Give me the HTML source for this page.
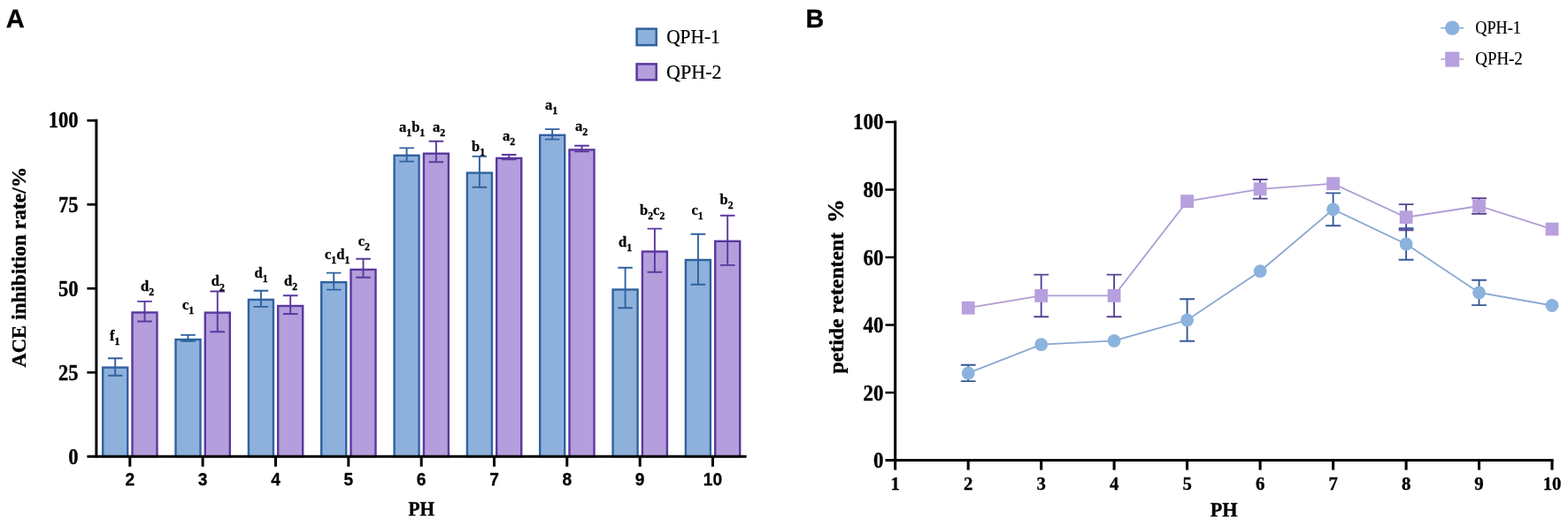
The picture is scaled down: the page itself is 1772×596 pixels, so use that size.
<!DOCTYPE html>
<html lang="en"><head><meta charset="utf-8"><title>Figure</title>
<style>
html,body{margin:0;padding:0;background:#fff;}
body{width:1772px;height:596px;overflow:hidden;}
svg{display:block;}
</style></head><body>
<svg width="1772" height="596" viewBox="0 0 1772 596">
<rect width="1772" height="596" fill="#fff"/>

<text transform="translate(6.87,31.00) scale(0.9844,1)" font-family='"Liberation Sans", sans-serif' font-weight="bold" font-size="29.57" fill="#000" stroke="#000" stroke-width="0.3">A</text>
<rect x="116.2" y="415.6" width="28.0" height="100.6" fill="#8eb1dc" stroke="#30629f" stroke-width="2.4"/>
<path d="M130.2 405.3 V424.7 M121.9 405.3 h16.6 M121.9 424.7 h16.6" stroke="#30629f" stroke-width="1.9" fill="none"/>
<rect x="149.5" y="353.4" width="28.0" height="162.8" fill="#b49edb" stroke="#5b389f" stroke-width="2.4"/>
<path d="M163.5 340.9 V363.5 M155.2 340.9 h16.6 M155.2 363.5 h16.6" stroke="#5b389f" stroke-width="1.9" fill="none"/>
<rect x="198.5" y="384.0" width="28.0" height="132.2" fill="#8eb1dc" stroke="#30629f" stroke-width="2.4"/>
<path d="M212.5 378.9 V385.8 M204.2 378.9 h16.6 M204.2 385.8 h16.6" stroke="#30629f" stroke-width="1.9" fill="none"/>
<rect x="231.8" y="353.6" width="28.0" height="162.6" fill="#b49edb" stroke="#5b389f" stroke-width="2.4"/>
<path d="M245.8 329.5 V375.3 M237.5 329.5 h16.6 M237.5 375.3 h16.6" stroke="#5b389f" stroke-width="1.9" fill="none"/>
<rect x="280.9" y="338.9" width="28.0" height="177.3" fill="#8eb1dc" stroke="#30629f" stroke-width="2.4"/>
<path d="M294.9 328.8 V346.9 M286.6 328.8 h16.6 M286.6 346.9 h16.6" stroke="#30629f" stroke-width="1.9" fill="none"/>
<rect x="314.2" y="346.0" width="28.0" height="170.2" fill="#b49edb" stroke="#5b389f" stroke-width="2.4"/>
<path d="M328.2 334.2 V355.0 M319.9 334.2 h16.6 M319.9 355.0 h16.6" stroke="#5b389f" stroke-width="1.9" fill="none"/>
<rect x="363.2" y="319.2" width="28.0" height="197.0" fill="#8eb1dc" stroke="#30629f" stroke-width="2.4"/>
<path d="M377.2 308.6 V327.6 M368.9 308.6 h16.6 M368.9 327.6 h16.6" stroke="#30629f" stroke-width="1.9" fill="none"/>
<rect x="396.5" y="304.9" width="28.0" height="211.3" fill="#b49edb" stroke="#5b389f" stroke-width="2.4"/>
<path d="M410.5 292.8 V313.8 M402.2 292.8 h16.6 M402.2 313.8 h16.6" stroke="#5b389f" stroke-width="1.9" fill="none"/>
<rect x="445.6" y="175.8" width="28.0" height="340.4" fill="#8eb1dc" stroke="#30629f" stroke-width="2.4"/>
<path d="M459.6 167.4 V182.6 M451.3 167.4 h16.6 M451.3 182.6 h16.6" stroke="#30629f" stroke-width="1.9" fill="none"/>
<rect x="478.9" y="173.7" width="28.0" height="342.5" fill="#b49edb" stroke="#5b389f" stroke-width="2.4"/>
<path d="M492.9 159.8 V183.3 M484.6 159.8 h16.6 M484.6 183.3 h16.6" stroke="#5b389f" stroke-width="1.9" fill="none"/>
<rect x="527.9" y="195.5" width="28.0" height="320.7" fill="#8eb1dc" stroke="#30629f" stroke-width="2.4"/>
<path d="M541.9 176.9 V211.8 M533.6 176.9 h16.6 M533.6 211.8 h16.6" stroke="#30629f" stroke-width="1.9" fill="none"/>
<rect x="561.2" y="178.9" width="28.0" height="337.3" fill="#b49edb" stroke="#5b389f" stroke-width="2.4"/>
<path d="M575.2 175.0 V180.4 M566.9 175.0 h16.6 M566.9 180.4 h16.6" stroke="#5b389f" stroke-width="1.9" fill="none"/>
<rect x="610.2" y="152.8" width="28.0" height="363.4" fill="#8eb1dc" stroke="#30629f" stroke-width="2.4"/>
<path d="M624.2 146.1 V157.6 M615.9 146.1 h16.6 M615.9 157.6 h16.6" stroke="#30629f" stroke-width="1.9" fill="none"/>
<rect x="643.5" y="169.4" width="28.0" height="346.8" fill="#b49edb" stroke="#5b389f" stroke-width="2.4"/>
<path d="M657.5 164.8 V171.4 M649.2 164.8 h16.6 M649.2 171.4 h16.6" stroke="#5b389f" stroke-width="1.9" fill="none"/>
<rect x="692.6" y="327.5" width="28.0" height="188.7" fill="#8eb1dc" stroke="#30629f" stroke-width="2.4"/>
<path d="M706.6 302.7 V348.3 M698.3 302.7 h16.6 M698.3 348.3 h16.6" stroke="#30629f" stroke-width="1.9" fill="none"/>
<rect x="725.9" y="284.5" width="28.0" height="231.7" fill="#b49edb" stroke="#5b389f" stroke-width="2.4"/>
<path d="M739.9 258.6 V307.7 M731.6 258.6 h16.6 M731.6 307.7 h16.6" stroke="#5b389f" stroke-width="1.9" fill="none"/>
<rect x="774.9" y="294.0" width="28.0" height="222.2" fill="#8eb1dc" stroke="#30629f" stroke-width="2.4"/>
<path d="M788.9 264.7 V321.7 M780.6 264.7 h16.6 M780.6 321.7 h16.6" stroke="#30629f" stroke-width="1.9" fill="none"/>
<rect x="808.2" y="272.8" width="28.0" height="243.5" fill="#b49edb" stroke="#5b389f" stroke-width="2.4"/>
<path d="M822.2 243.8 V299.9 M813.9 243.8 h16.6 M813.9 299.9 h16.6" stroke="#5b389f" stroke-width="1.9" fill="none"/>
<g stroke="#000" stroke-width="3.0" fill="none" stroke-linecap="butt">
<path d="M108.9 134.8 V517.7"/>
<path d="M98.4 516.2 H843.6"/>
<path d="M98.4 421.23 H108.9" stroke-width="2.7"/>
<path d="M98.4 326.25 H108.9" stroke-width="2.7"/>
<path d="M98.4 231.28 H108.9" stroke-width="2.7"/>
<path d="M98.4 136.30 H108.9" stroke-width="2.7"/>
<path d="M146.8 516.2 V527.7"/>
<path d="M229.1 516.2 V527.7"/>
<path d="M311.5 516.2 V527.7"/>
<path d="M393.8 516.2 V527.7"/>
<path d="M476.2 516.2 V527.7"/>
<path d="M558.5 516.2 V527.7"/>
<path d="M640.8 516.2 V527.7"/>
<path d="M723.2 516.2 V527.7"/>
<path d="M805.5 516.2 V527.7"/>
</g>
<text transform="translate(77.35,524.70) scale(0.9000,1)" text-anchor="start" font-family='"Liberation Serif", serif' font-weight="bold" font-size="25.00" fill="#000" stroke="#000" stroke-width="0.35">0</text>
<text transform="translate(65.99,429.73) scale(0.9000,1)" text-anchor="start" font-family='"Liberation Serif", serif' font-weight="bold" font-size="25.00" fill="#000" stroke="#000" stroke-width="0.35">25</text>
<text transform="translate(66.10,334.75) scale(0.9000,1)" text-anchor="start" font-family='"Liberation Serif", serif' font-weight="bold" font-size="25.00" fill="#000" stroke="#000" stroke-width="0.35">50</text>
<text transform="translate(65.99,239.78) scale(0.9000,1)" text-anchor="start" font-family='"Liberation Serif", serif' font-weight="bold" font-size="25.00" fill="#000" stroke="#000" stroke-width="0.35">75</text>
<text transform="translate(54.85,144.10) scale(0.9000,1)" text-anchor="start" font-family='"Liberation Serif", serif' font-weight="bold" font-size="25.00" fill="#000" stroke="#000" stroke-width="0.35">100</text>
<text transform="translate(146.80,549.40) scale(0.9400,1)" text-anchor="middle" font-family='"Liberation Sans", sans-serif' font-weight="bold" font-size="20.40" fill="#000" stroke="#000" stroke-width="0.3">2</text>
<text transform="translate(229.14,549.40) scale(0.9400,1)" text-anchor="middle" font-family='"Liberation Sans", sans-serif' font-weight="bold" font-size="20.40" fill="#000" stroke="#000" stroke-width="0.3">3</text>
<text transform="translate(311.48,549.40) scale(0.9400,1)" text-anchor="middle" font-family='"Liberation Sans", sans-serif' font-weight="bold" font-size="20.40" fill="#000" stroke="#000" stroke-width="0.3">4</text>
<text transform="translate(393.82,549.40) scale(0.9400,1)" text-anchor="middle" font-family='"Liberation Sans", sans-serif' font-weight="bold" font-size="20.40" fill="#000" stroke="#000" stroke-width="0.3">5</text>
<text transform="translate(476.16,549.40) scale(0.9400,1)" text-anchor="middle" font-family='"Liberation Sans", sans-serif' font-weight="bold" font-size="20.40" fill="#000" stroke="#000" stroke-width="0.3">6</text>
<text transform="translate(558.50,549.40) scale(0.9400,1)" text-anchor="middle" font-family='"Liberation Sans", sans-serif' font-weight="bold" font-size="20.40" fill="#000" stroke="#000" stroke-width="0.3">7</text>
<text transform="translate(640.84,549.40) scale(0.9400,1)" text-anchor="middle" font-family='"Liberation Sans", sans-serif' font-weight="bold" font-size="20.40" fill="#000" stroke="#000" stroke-width="0.3">8</text>
<text transform="translate(723.18,549.40) scale(0.9400,1)" text-anchor="middle" font-family='"Liberation Sans", sans-serif' font-weight="bold" font-size="20.40" fill="#000" stroke="#000" stroke-width="0.3">9</text>
<text transform="translate(805.52,549.40) scale(0.9400,1)" text-anchor="middle" font-family='"Liberation Sans", sans-serif' font-weight="bold" font-size="20.40" fill="#000" stroke="#000" stroke-width="0.3">10</text>
<text transform="translate(461.58,582.70) scale(0.9191,1)" font-family='"Liberation Serif", serif' font-weight="bold" font-size="23.21" fill="#000" stroke="#000" stroke-width="0.35">PH</text>
<text transform="translate(28.85,415.20) rotate(-90) scale(1.0100,1)" font-family='"Liberation Serif", serif' font-weight="bold" fill="#000" xml:space="preserve" stroke="#000" stroke-width="0.35"><tspan dx="-0.22" font-size="22.30">ACE</tspan><tspan dx="0.32" font-size="22.90"> inhibition</tspan><tspan dx="0.26" font-size="23.30"> rate/%</tspan></text>
<text transform="translate(124,385) scale(1.0,1)" font-family='"Liberation Serif", serif' font-weight="bold" font-size="16.5" fill="#000" stroke="#000" stroke-width="0.3"><tspan>f</tspan><tspan dy="5.4" font-size="11.8">1</tspan></text>
<text transform="translate(159,328.7) scale(1.0,1)" font-family='"Liberation Serif", serif' font-weight="bold" font-size="16.5" fill="#000" stroke="#000" stroke-width="0.3"><tspan>d</tspan><tspan dy="5.4" font-size="11.8">2</tspan></text>
<text transform="translate(206,350) scale(1.0,1)" font-family='"Liberation Serif", serif' font-weight="bold" font-size="16.5" fill="#000" stroke="#000" stroke-width="0.3"><tspan>c</tspan><tspan dy="5.4" font-size="11.8">1</tspan></text>
<text transform="translate(238.7,323.3) scale(1.0,1)" font-family='"Liberation Serif", serif' font-weight="bold" font-size="16.5" fill="#000" stroke="#000" stroke-width="0.3"><tspan>d</tspan><tspan dy="5.4" font-size="11.8">2</tspan></text>
<text transform="translate(287.6,314) scale(1.0,1)" font-family='"Liberation Serif", serif' font-weight="bold" font-size="16.5" fill="#000" stroke="#000" stroke-width="0.3"><tspan>d</tspan><tspan dy="5.4" font-size="11.8">1</tspan></text>
<text transform="translate(321,323) scale(1.0,1)" font-family='"Liberation Serif", serif' font-weight="bold" font-size="16.5" fill="#000" stroke="#000" stroke-width="0.3"><tspan>d</tspan><tspan dy="5.4" font-size="11.8">2</tspan></text>
<text transform="translate(367,293) scale(1.0,1)" font-family='"Liberation Serif", serif' font-weight="bold" font-size="16.5" fill="#000" stroke="#000" stroke-width="0.3"><tspan>c</tspan><tspan dy="5.4" font-size="11.8">1</tspan><tspan dy="-5.4">d</tspan><tspan dy="5.4" font-size="11.8">1</tspan></text>
<text transform="translate(404.7,277.6) scale(1.0,1)" font-family='"Liberation Serif", serif' font-weight="bold" font-size="16.5" fill="#000" stroke="#000" stroke-width="0.3"><tspan>c</tspan><tspan dy="5.4" font-size="11.8">2</tspan></text>
<text transform="translate(451,148.5) scale(1.0,1)" font-family='"Liberation Serif", serif' font-weight="bold" font-size="16.5" fill="#000" stroke="#000" stroke-width="0.3"><tspan>a</tspan><tspan dy="5.4" font-size="11.8">1</tspan><tspan dy="-5.4">b</tspan><tspan dy="5.4" font-size="11.8">1</tspan></text>
<text transform="translate(489,148.5) scale(1.0,1)" font-family='"Liberation Serif", serif' font-weight="bold" font-size="16.5" fill="#000" stroke="#000" stroke-width="0.3"><tspan>a</tspan><tspan dy="5.4" font-size="11.8">2</tspan></text>
<text transform="translate(533,170.5) scale(1.0,1)" font-family='"Liberation Serif", serif' font-weight="bold" font-size="16.5" fill="#000" stroke="#000" stroke-width="0.3"><tspan>b</tspan><tspan dy="5.4" font-size="11.8">1</tspan></text>
<text transform="translate(568,159) scale(1.0,1)" font-family='"Liberation Serif", serif' font-weight="bold" font-size="16.5" fill="#000" stroke="#000" stroke-width="0.3"><tspan>a</tspan><tspan dy="5.4" font-size="11.8">2</tspan></text>
<text transform="translate(616,124) scale(1.0,1)" font-family='"Liberation Serif", serif' font-weight="bold" font-size="16.5" fill="#000" stroke="#000" stroke-width="0.3"><tspan>a</tspan><tspan dy="5.4" font-size="11.8">1</tspan></text>
<text transform="translate(650,148) scale(1.0,1)" font-family='"Liberation Serif", serif' font-weight="bold" font-size="16.5" fill="#000" stroke="#000" stroke-width="0.3"><tspan>a</tspan><tspan dy="5.4" font-size="11.8">2</tspan></text>
<text transform="translate(699,279) scale(1.0,1)" font-family='"Liberation Serif", serif' font-weight="bold" font-size="16.5" fill="#000" stroke="#000" stroke-width="0.3"><tspan>d</tspan><tspan dy="5.4" font-size="11.8">1</tspan></text>
<text transform="translate(723,242.6) scale(1.0,1)" font-family='"Liberation Serif", serif' font-weight="bold" font-size="16.5" fill="#000" stroke="#000" stroke-width="0.3"><tspan>b</tspan><tspan dy="5.4" font-size="11.8">2</tspan><tspan dy="-5.4">c</tspan><tspan dy="5.4" font-size="11.8">2</tspan></text>
<text transform="translate(781.5,243) scale(1.0,1)" font-family='"Liberation Serif", serif' font-weight="bold" font-size="16.5" fill="#000" stroke="#000" stroke-width="0.3"><tspan>c</tspan><tspan dy="5.4" font-size="11.8">1</tspan></text>
<text transform="translate(813.6,231) scale(1.0,1)" font-family='"Liberation Serif", serif' font-weight="bold" font-size="16.5" fill="#000" stroke="#000" stroke-width="0.3"><tspan>b</tspan><tspan dy="5.4" font-size="11.8">2</tspan></text>
<rect x="719.6" y="32.6" width="22.1" height="18.5" fill="#8eb1dc" stroke="#30629f" stroke-width="2.5"/>
<rect x="719.6" y="72.4" width="22.1" height="18.0" fill="#b49edb" stroke="#5b389f" stroke-width="2.5"/>
<text transform="translate(753.14,49.40) scale(0.9049,1)" font-family='"Liberation Serif", serif' font-weight="normal" font-size="23.64" fill="#000" stroke="#000" stroke-width="0.2">QPH-1</text>
<text transform="translate(753.12,89.00) scale(0.9342,1)" font-family='"Liberation Serif", serif' font-weight="normal" font-size="23.64" fill="#000" stroke="#000" stroke-width="0.2">QPH-2</text>
<text transform="translate(910.54,31.10) scale(0.9609,1)" font-family='"Liberation Sans", sans-serif' font-weight="bold" font-size="29.86" fill="#000" stroke="#000" stroke-width="0.3">B</text>
<g stroke="#000" stroke-width="3.1" fill="none">
<path d="M1011.7 136.5 V531.5"/>
<path d="M1000.5 520.5 H1755.6"/>
<path d="M1000.5 444.00 H1011.7" stroke-width="2.5"/>
<path d="M1000.5 367.50 H1011.7" stroke-width="2.5"/>
<path d="M1000.5 291.00 H1011.7" stroke-width="2.5"/>
<path d="M1000.5 214.50 H1011.7" stroke-width="2.5"/>
<path d="M1000.5 138.00 H1011.7" stroke-width="2.5"/>
<path d="M1094.2 520.5 V531.5"/>
<path d="M1176.7 520.5 V531.5"/>
<path d="M1259.1 520.5 V531.5"/>
<path d="M1341.6 520.5 V531.5"/>
<path d="M1424.1 520.5 V531.5"/>
<path d="M1506.6 520.5 V531.5"/>
<path d="M1589.1 520.5 V531.5"/>
<path d="M1671.5 520.5 V531.5"/>
<path d="M1754.0 520.5 V531.5"/>
</g>
<text transform="translate(986.93,529.20) scale(0.9050,1)" text-anchor="start" font-family='"Liberation Serif", serif' font-weight="bold" font-size="25.40" fill="#000" stroke="#000" stroke-width="0.35">0</text>
<text transform="translate(975.43,452.70) scale(0.9050,1)" text-anchor="start" font-family='"Liberation Serif", serif' font-weight="bold" font-size="25.40" fill="#000" stroke="#000" stroke-width="0.35">20</text>
<text transform="translate(975.43,376.20) scale(0.9050,1)" text-anchor="start" font-family='"Liberation Serif", serif' font-weight="bold" font-size="25.40" fill="#000" stroke="#000" stroke-width="0.35">40</text>
<text transform="translate(975.43,299.70) scale(0.9050,1)" text-anchor="start" font-family='"Liberation Serif", serif' font-weight="bold" font-size="25.40" fill="#000" stroke="#000" stroke-width="0.35">60</text>
<text transform="translate(975.43,223.20) scale(0.9050,1)" text-anchor="start" font-family='"Liberation Serif", serif' font-weight="bold" font-size="25.40" fill="#000" stroke="#000" stroke-width="0.35">80</text>
<text transform="translate(963.94,146.30) scale(0.9050,1)" text-anchor="start" font-family='"Liberation Serif", serif' font-weight="bold" font-size="25.40" fill="#000" stroke="#000" stroke-width="0.35">100</text>
<text transform="translate(1011.70,554.20) scale(0.9800,1)" text-anchor="middle" font-family='"Liberation Serif", serif' font-weight="bold" font-size="21.20" fill="#000" stroke="#000" stroke-width="0.35">1</text>
<text transform="translate(1094.18,554.20) scale(0.9800,1)" text-anchor="middle" font-family='"Liberation Serif", serif' font-weight="bold" font-size="21.20" fill="#000" stroke="#000" stroke-width="0.35">2</text>
<text transform="translate(1176.66,554.20) scale(0.9800,1)" text-anchor="middle" font-family='"Liberation Serif", serif' font-weight="bold" font-size="21.20" fill="#000" stroke="#000" stroke-width="0.35">3</text>
<text transform="translate(1259.14,554.20) scale(0.9800,1)" text-anchor="middle" font-family='"Liberation Serif", serif' font-weight="bold" font-size="21.20" fill="#000" stroke="#000" stroke-width="0.35">4</text>
<text transform="translate(1341.62,554.20) scale(0.9800,1)" text-anchor="middle" font-family='"Liberation Serif", serif' font-weight="bold" font-size="21.20" fill="#000" stroke="#000" stroke-width="0.35">5</text>
<text transform="translate(1424.10,554.20) scale(0.9800,1)" text-anchor="middle" font-family='"Liberation Serif", serif' font-weight="bold" font-size="21.20" fill="#000" stroke="#000" stroke-width="0.35">6</text>
<text transform="translate(1506.58,554.20) scale(0.9800,1)" text-anchor="middle" font-family='"Liberation Serif", serif' font-weight="bold" font-size="21.20" fill="#000" stroke="#000" stroke-width="0.35">7</text>
<text transform="translate(1589.06,554.20) scale(0.9800,1)" text-anchor="middle" font-family='"Liberation Serif", serif' font-weight="bold" font-size="21.20" fill="#000" stroke="#000" stroke-width="0.35">8</text>
<text transform="translate(1671.54,554.20) scale(0.9800,1)" text-anchor="middle" font-family='"Liberation Serif", serif' font-weight="bold" font-size="21.20" fill="#000" stroke="#000" stroke-width="0.35">9</text>
<text transform="translate(1754.02,554.20) scale(0.9800,1)" text-anchor="middle" font-family='"Liberation Serif", serif' font-weight="bold" font-size="21.20" fill="#000" stroke="#000" stroke-width="0.35">10</text>
<text transform="translate(1367.77,584.30) scale(0.9448,1)" font-family='"Liberation Serif", serif' font-weight="bold" font-size="23.51" fill="#000" stroke="#000" stroke-width="0.35">PH</text>
<text transform="translate(952.90,422.20) rotate(-90) scale(1.0400,1)" font-family='"Liberation Serif", serif' font-weight="bold" fill="#000" xml:space="preserve" stroke="#000" stroke-width="0.35"><tspan dx="-0.23" font-size="22.80">petide retentent</tspan><tspan dx="-2.75" font-size="26.00">  %</tspan></text>
<polyline points="1094.2,421.9 1176.7,389.7 1259.1,385.4 1341.6,362.0 1424.1,306.7 1506.6,236.8 1589.1,276.0 1671.5,330.9 1754.0,345.5" fill="none" stroke="#8ba6d2" stroke-width="1.8"/>
<path d="M1094.2 412.7 V431.1 M1085.8 412.7 h16.8 M1085.8 431.1 h16.8" stroke="#36599a" stroke-width="1.9" fill="none"/>
<path d="M1341.6 338.2 V385.8 M1333.2 338.2 h16.8 M1333.2 385.8 h16.8" stroke="#36599a" stroke-width="1.9" fill="none"/>
<path d="M1506.6 218.4 V255.3 M1498.2 218.4 h16.8 M1498.2 255.3 h16.8" stroke="#36599a" stroke-width="1.9" fill="none"/>
<path d="M1589.1 258.3 V293.7 M1580.7 258.3 h16.8 M1580.7 293.7 h16.8" stroke="#36599a" stroke-width="1.9" fill="none"/>
<path d="M1671.5 316.7 V345.1 M1663.1 316.7 h16.8 M1663.1 345.1 h16.8" stroke="#36599a" stroke-width="1.9" fill="none"/>
<circle cx="1094.2" cy="421.9" r="7.4" fill="#8cb2de"/>
<circle cx="1176.7" cy="389.7" r="7.4" fill="#8cb2de"/>
<circle cx="1259.1" cy="385.4" r="7.4" fill="#8cb2de"/>
<circle cx="1341.6" cy="362.0" r="7.4" fill="#8cb2de"/>
<circle cx="1424.1" cy="306.7" r="7.4" fill="#8cb2de"/>
<circle cx="1506.6" cy="236.8" r="7.4" fill="#8cb2de"/>
<circle cx="1589.1" cy="276.0" r="7.4" fill="#8cb2de"/>
<circle cx="1671.5" cy="330.9" r="7.4" fill="#8cb2de"/>
<circle cx="1754.0" cy="345.5" r="7.4" fill="#8cb2de"/>
<polyline points="1094.2,348.2 1176.7,334.4 1259.1,334.4 1341.6,227.6 1424.1,213.8 1506.6,207.7 1589.1,245.7 1671.5,233.0 1754.0,259.1" fill="none" stroke="#b09dd4" stroke-width="1.8"/>
<path d="M1176.7 310.6 V358.2 M1168.3 310.6 h16.8 M1168.3 358.2 h16.8" stroke="#574292" stroke-width="1.9" fill="none"/>
<path d="M1259.1 310.6 V358.2 M1250.7 310.6 h16.8 M1250.7 358.2 h16.8" stroke="#574292" stroke-width="1.9" fill="none"/>
<path d="M1424.1 203.0 V224.6 M1415.7 203.0 h16.8 M1415.7 224.6 h16.8" stroke="#574292" stroke-width="1.9" fill="none"/>
<path d="M1589.1 231.1 V260.3 M1580.7 231.1 h16.8 M1580.7 260.3 h16.8" stroke="#574292" stroke-width="1.9" fill="none"/>
<path d="M1671.5 224.2 V241.8 M1663.1 224.2 h16.8 M1663.1 241.8 h16.8" stroke="#574292" stroke-width="1.9" fill="none"/>
<rect x="1086.8" y="340.8" width="14.8" height="14.8" fill="#b7a0de"/>
<rect x="1169.3" y="327.0" width="14.8" height="14.8" fill="#b7a0de"/>
<rect x="1251.7" y="327.0" width="14.8" height="14.8" fill="#b7a0de"/>
<rect x="1334.2" y="220.2" width="14.8" height="14.8" fill="#b7a0de"/>
<rect x="1416.7" y="206.4" width="14.8" height="14.8" fill="#b7a0de"/>
<rect x="1499.2" y="200.3" width="14.8" height="14.8" fill="#b7a0de"/>
<rect x="1581.7" y="238.3" width="14.8" height="14.8" fill="#b7a0de"/>
<rect x="1664.1" y="225.6" width="14.8" height="14.8" fill="#b7a0de"/>
<rect x="1746.6" y="251.7" width="14.8" height="14.8" fill="#b7a0de"/>
<path d="M1628.1 31.6 H1654.3" stroke="#8ba6d2" stroke-width="1.5"/><circle cx="1641.2" cy="31.6" r="8.2" fill="#8cb2de"/>
<path d="M1628.1 67 H1654.3" stroke="#b09dd4" stroke-width="1.5"/><rect x="1633.2" y="58.6" width="16" height="17" fill="#b7a0de"/>
<text transform="translate(1667.27,38.30) scale(0.9036,1)" font-family='"Liberation Serif", serif' font-weight="normal" font-size="20.15" fill="#000" stroke="#000" stroke-width="0.2">QPH-1</text>
<text transform="translate(1667.24,72.90) scale(0.9311,1)" font-family='"Liberation Serif", serif' font-weight="normal" font-size="20.30" fill="#000" stroke="#000" stroke-width="0.2">QPH-2</text>
</svg>
</body></html>
